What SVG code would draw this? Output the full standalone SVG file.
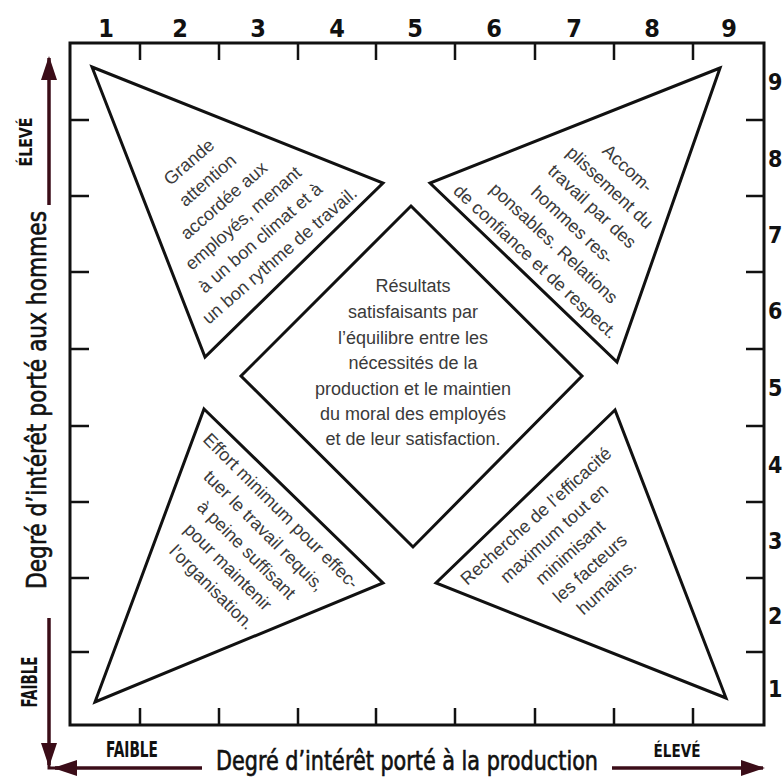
<svg xmlns="http://www.w3.org/2000/svg" width="783" height="777" viewBox="0 0 783 777">
<style>
.shape{fill:#fff;stroke:#111;stroke-width:3;stroke-linejoin:miter}
.frame{fill:none;stroke:#111;stroke-width:3}
.tick{stroke:#111;stroke-width:2.5}
.txt{font-family:"Liberation Sans",Arial,sans-serif;font-size:18px;fill:#3a3a3a;text-anchor:middle}
.num{font-family:"DejaVu Sans Condensed","DejaVu Sans",sans-serif;font-stretch:condensed;font-weight:bold;font-size:25px;fill:#111;text-anchor:middle}
.numr{font-family:"DejaVu Sans Condensed","DejaVu Sans",sans-serif;font-stretch:condensed;font-weight:bold;font-size:23px;fill:#111}
.lab{font-family:"DejaVu Sans Condensed","DejaVu Sans",sans-serif;font-stretch:condensed;fill:#111;text-anchor:middle}
.labm{stroke:#111;stroke-width:0.6}
.arrow{stroke:#3b0d18;stroke-width:3.5;fill:none;marker-end:url(#ah)}
</style>
<defs>
<marker id="ah" viewBox="0 0 24 16" refX="22" refY="8" markerWidth="24" markerHeight="16" markerUnits="userSpaceOnUse" orient="auto">
<path d="M0,0 L24,8 L0,16 z" fill="#3b0d18"/>
</marker>
</defs>
<rect width="783" height="777" fill="#fff"/>

<g id="frame">
<rect class="frame" x="70" y="43" width="694" height="682"/>
<path class="tick" d="M140,43V60M219,43V60M298,43V60M376,43V60M455,43V60M535,43V60M614,43V60M693,43V60"/>
<path class="tick" d="M140,708V725M219,708V725M298,708V725M376,708V725M455,708V725M535,708V725M614,708V725M693,708V725"/>
<path class="tick" d="M70,120H89M70,196H89M70,272H89M70,349H89M70,426H89M70,502H89M70,578H89M70,652H89"/>
<path class="tick" d="M746,120H764M746,196H764M746,272H764M746,349H764M746,426H764M746,502H764M746,578H764M746,652H764"/>
<g class="num">
<text x="106" y="37">1</text><text x="180" y="37">2</text><text x="258" y="37">3</text><text x="337" y="37">4</text><text x="415" y="37">5</text><text x="494" y="37">6</text><text x="574" y="37">7</text><text x="652" y="37">8</text><text x="729" y="37">9</text>
</g>
<g class="numr">
<text x="768" y="90">9</text><text x="768" y="167">8</text><text x="768" y="243">7</text><text x="768" y="319">6</text><text x="768" y="396">5</text><text x="768" y="473">4</text><text x="768" y="549">3</text><text x="768" y="624">2</text><text x="768" y="697">1</text>
</g>
</g>

<g id="axis-arrows">
<path class="arrow" d="M49,205V58"/>
<path class="arrow" d="M49,618V765"/>
<path class="arrow" d="M202,768H55"/>
<path class="arrow" d="M612,768H763"/>
<path d="M49,760V768H58" fill="none" stroke="#3b0d18" stroke-width="3"/>
</g>

<g id="axis-labels">
<text class="lab" transform="translate(32,142) rotate(-90)" font-size="18" font-weight="bold" textLength="49" lengthAdjust="spacingAndGlyphs">ÉLEVÉ</text>
<text class="lab" transform="translate(37,682) rotate(-90)" font-size="22" font-weight="bold" textLength="51" lengthAdjust="spacingAndGlyphs">FAIBLE</text>
<text class="lab labm" transform="translate(46,400) rotate(-90)" font-size="26" textLength="378" lengthAdjust="spacingAndGlyphs">Degré d’intérêt porté aux hommes</text>
<text class="lab" x="132" y="757" font-size="22" font-weight="bold" textLength="52" lengthAdjust="spacingAndGlyphs">FAIBLE</text>
<text class="lab" x="677" y="757" font-size="18" font-weight="bold" textLength="47" lengthAdjust="spacingAndGlyphs">ÉLEVÉ</text>
<text class="lab labm" x="407" y="770" font-size="26" textLength="382" lengthAdjust="spacingAndGlyphs">Degré d’intérêt porté à la production</text>
</g>

<g id="node-top-left">
<polygon class="shape" points="92,67 383,183 205,357"/>
<g class="txt" transform="translate(189,162) rotate(-41)">
<text x="0" y="6">Grande</text>
<text x="2" y="32">attention</text>
<text x="1" y="58">accordée aux</text>
<text x="4" y="84">employés, menant</text>
<text x="4" y="110">à un bon climat et à</text>
<text x="7" y="136">un bon rythme de travail.</text>
</g>
</g>

<g id="node-top-right">
<polygon class="shape" points="720,68 430,183 617,362"/>
<g class="txt" transform="translate(629,167) rotate(43)">
<text x="0" y="8">Accom-</text>
<text x="0" y="34">plissement du</text>
<text x="0" y="60">travail par des</text>
<text x="-2" y="87">hommes res-</text>
<text x="-3" y="113">ponsables. Relations</text>
<text x="-4" y="139">de confiance et de respect.</text>
</g>
</g>

<g id="node-center">
<polygon class="shape" points="411,206 582,376 413,547 241,376"/>
<g class="txt">
<text x="413" y="292">Résultats</text>
<text x="413" y="318">satisfaisants par</text>
<text x="413" y="344">l’équilibre entre les</text>
<text x="413" y="369">nécessités de la</text>
<text x="413" y="395">production  et le maintien</text>
<text x="413" y="420">du moral des employés</text>
<text x="413" y="445">et de leur satisfaction.</text>
</g>
</g>

<g id="node-bottom-left">
<polygon class="shape" points="204,409 383,583 95,702"/>
<g class="txt" transform="translate(281,511) rotate(45)">
<text x="0" y="6">Effort minimum pour effec-</text>
<text x="2" y="32">tuer le travail requis,</text>
<text x="3" y="58">à peine suffisant</text>
<text x="2" y="83">pour maintenir</text>
<text x="5" y="109">l’organisation.</text>
</g>
</g>

<g id="node-bottom-right">
<polygon class="shape" points="615,410 436,583 726,698"/>
<g class="txt" transform="translate(536,516) rotate(-42)">
<text x="0" y="6">Recherche de l’efficacité</text>
<text x="2" y="31">maximum tout en</text>
<text x="1" y="56">minimisant</text>
<text x="5" y="81">les facteurs</text>
<text x="5" y="106">humains.</text>
</g>
</g>
</svg>
